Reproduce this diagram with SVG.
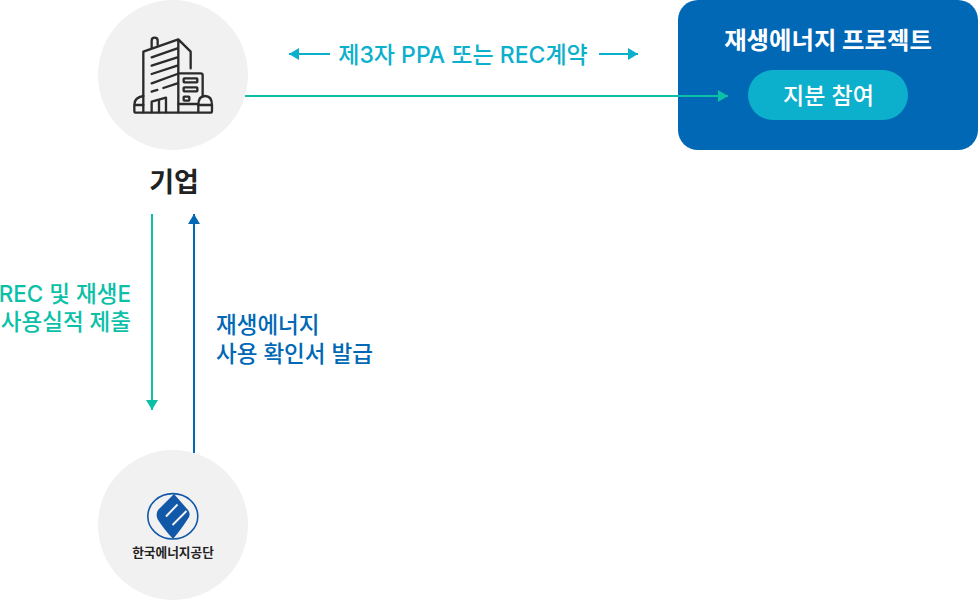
<svg xmlns="http://www.w3.org/2000/svg" width="978" height="600" viewBox="0 0 978 600">
  <style>
    text { font-family: "Inter", "Noto Sans CJK KR", sans-serif; font-weight: 500; }
    text.strong { font-weight: 700; }
    .disc { fill: #f1f1f1; }
    .ink { fill: none; stroke: #2b2b2b; stroke-width: 7; stroke-linecap: round; stroke-linejoin: round; }
    .navy { fill: #0068b5; }
    .cyan { fill: #0cb0cd; }
  </style>
  <defs>
    <marker id="tipGreen" markerUnits="userSpaceOnUse" markerWidth="12" markerHeight="12" refX="10" refY="6" orient="auto"><path d="M0 0L10 6L0 12Z" fill="#0cc0a8"/></marker>
    <marker id="tipBlue" markerUnits="userSpaceOnUse" markerWidth="12" markerHeight="12" refX="10" refY="6" orient="auto"><path d="M0 0L10 6L0 12Z" fill="#0068b5"/></marker>
    <marker id="tipCyan" markerUnits="userSpaceOnUse" markerWidth="12" markerHeight="12" refX="10" refY="6" orient="auto"><path d="M0 0L10 6L0 12Z" fill="#0cb0cd"/></marker>
  </defs>

  <g id="company">
    <circle class="disc" cx="173" cy="75" r="75"/>
    <!-- office tower with annex, drawn on a 3x grid -->
    <g transform="translate(90 0) scale(0.3333)">
      <path class="ink" d="M160 337V155L265 118L302 155V205M265 118V337"/>
      <path class="ink" d="M185 143V122Q185 113 194 113Q203 113 203 122V134"/>
      <path class="ink" d="M185 172L262 145M185 197L262 172M185 222L262 197M185 250L262 222M185 275L202 270M220 264L262 250"/>
      <path class="ink" d="M185 337V305L228 293V337M207 300V337"/>
      <path class="ink" d="M265 220H332Q338 220 338 226V290M265 312H325"/>
      <rect class="ink" x="281" y="235" width="41" height="12" rx="2"/>
      <rect class="ink" x="281" y="262" width="41" height="12" rx="2"/>
      <rect class="ink" x="281" y="290" width="17" height="12" rx="2"/>
      <path class="ink" d="M160 288Q133 292 133 315V332Q133 338 139 338H360Q366 338 366 332V315Q366 288 345 288Q325 288 325 315V338M133 315H160"/>
      <path class="ink" d="M325 315H366"/>
    </g>
    <text class="strong" x="174" y="192" font-size="27" text-anchor="middle" fill="#222222">기업</text>
  </g>

  <g id="project">
    <rect class="navy" x="678" y="0" width="300" height="150" rx="20"/>
    <text class="strong" x="828" y="49" font-size="24.400" text-anchor="middle" fill="#ffffff">재생에너지 프로젝트</text>
    <rect class="cyan" x="748" y="70" width="160" height="50" rx="25"/>
    <text x="828.500" y="104" font-size="23" text-anchor="middle" fill="#ffffff">지분 참여</text>
  </g>

  <g id="energy-agency">
    <circle class="disc" cx="173" cy="525" r="75"/>
    <ellipse cx="172.800" cy="516.300" rx="25" ry="22.700" fill="none" stroke="#1159a8" stroke-width="1.600"/>
    <!-- leaf emblem with two diagonal slits -->
    <path d="M174 494L188 510Q190.500 513 189 517Q183 527 173 539Q163 528 157.500 519Q155.500 514 158 510Z" fill="#1159a8"/>
    <path d="M166 516.500L177.500 504.500M172.500 525L186.500 511" fill="none" stroke="#f1f1f1" stroke-width="2"/>
    <text class="strong" x="173" y="557" font-size="12.700" text-anchor="middle" fill="#222222">한국에너지공단</text>
  </g>

  <g id="connectors" fill="none" stroke-width="2">
    <path d="M245 96H728" stroke="#0cc0a8" marker-end="url(#tipGreen)"/>
    <path d="M152 214V410" stroke="#0cc0a8" marker-end="url(#tipGreen)"/>
    <path d="M194 453V214" stroke="#0068b5" marker-end="url(#tipBlue)"/>
    <path d="M330 54H289" stroke="#0cb0cd" marker-end="url(#tipCyan)"/>
    <path d="M599 54H638" stroke="#0cb0cd" marker-end="url(#tipCyan)"/>
  </g>

  <g id="labels" font-size="22.500">
    <text x="463" y="63" font-size="23" text-anchor="middle" fill="#0cb0cd">제3자 PPA 또는 REC계약</text>
    <text x="131" y="302" text-anchor="end" fill="#0cc0a8">REC 및 재생E</text>
    <text x="131" y="330" text-anchor="end" fill="#0cc0a8">사용실적 제출</text>
    <text x="216" y="333" fill="#0068b5">재생에너지</text>
    <text x="216" y="362" fill="#0068b5">사용 확인서 발급</text>
  </g>
</svg>
